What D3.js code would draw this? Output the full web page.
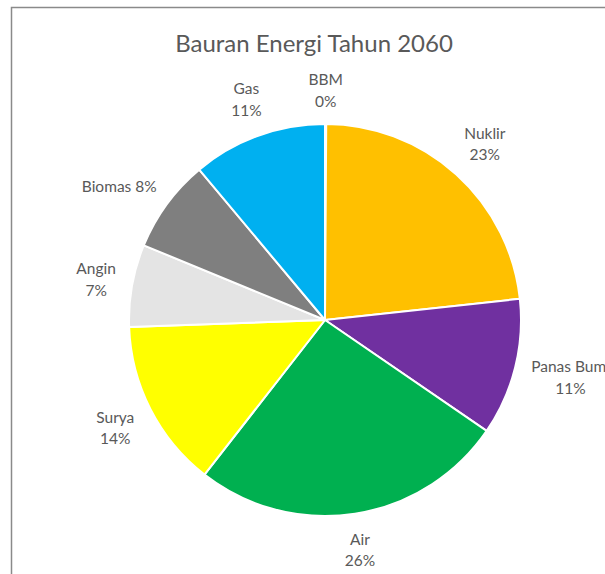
<!DOCTYPE html>
<html>
<head>
<meta charset="utf-8">
<script src="https://cdn.jsdelivr.net/npm/d3@7"></script>
<style>
  body { margin: 0; background: #fff; }
  svg { display: block; }
</style>
</head>
<body>
<svg id="chart" width="605" height="574"></svg>
<script>
// data (percent)
var categories = ["BBM", "Nuklir", "Panas Bumi", "Air", "Surya", "Angin", "Biomas", "Gas"];
var values = [0.1, 23.2, 11.3, 26.0, 13.9, 6.8, 7.7, 11.1];
var labels = ["BBM|0%", "Nuklir|23%", "Panas Bumi|11%", "Air|26%", "Surya|14%", "Angin|7%", "Biomas 8%", "Gas|11%"];
var colors = ["#c55a11", "#ffc000", "#7030a0", "#00b050", "#ffff00", "#e4e4e4", "#7f7f7f", "#00b0f0"];

var width = 605, height = 574;
var cx = 325, cy = 320, radius = 196;
var labelGap = 14;

var svg = d3.select("#chart");

// chart frame (cut off on right and bottom, as in the picture)
svg.append("rect")
    .attr("x", 11.5).attr("y", 7.5)
    .attr("width", 640).attr("height", 620)
    .attr("fill", "#fff")
    .attr("stroke", "#8a8a8a")
    .attr("stroke-width", 1.5);

svg.append("text")
    .attr("x", 314).attr("y", 52)
    .attr("text-anchor", "middle")
    .style("font-family", "Lato, 'Open Sans', sans-serif")
    .style("font-size", "24px")
    .style("fill", "#595959")
    .text("Bauran Energi Tahun 2060");

var pie = d3.pie().sort(null).value(function (d) { return d; });
var arcs = pie(values);
var arc = d3.arc().innerRadius(0).outerRadius(radius);

var g = svg.append("g").attr("transform", "translate(" + cx + "," + cy + ")");

g.selectAll("path.slice")
    .data(arcs)
    .enter().append("path")
    .attr("class", "slice")
    .attr("d", arc)
    .attr("fill", function (d, i) { return colors[i]; })
    .attr("stroke", "#fff")
    .attr("stroke-width", 2)
    .attr("stroke-linejoin", "round");

// labels: put the text box just outside the pie, along the middle angle
// (a bit more room on the diagonals, like excel does)
var lab = g.selectAll("g.lab")
    .data(arcs)
    .enter().append("g")
    .attr("class", "lab");

lab.each(function (d, i) {
    var el = d3.select(this);
    var lines = labels[i].split("|");
    var t = el.append("text")
        .attr("text-anchor", "middle")
        .style("font-family", "Lato, 'Open Sans', sans-serif")
        .style("font-size", "15.5px")
        .style("fill", "#595959");
    lines.forEach(function (s, k) {
        t.append("tspan").attr("x", 0).attr("dy", k == 0 ? 0 : 21.5).text(s);
    });
    var bb = t.node().getBBox();
    var a = (d.startAngle + d.endAngle) / 2;
    var sx = Math.sin(a), sy = -Math.cos(a);
    var gap = labelGap + 8 * Math.abs(Math.sin(2 * a));
    var ax = (radius + gap) * sx, ay = (radius + gap) * sy;
    var bx = ax + sx * bb.width / 2;
    var by = ay + sy * bb.height / 2;
    // shift so the box center lands on (bx, by)
    var ox = bx - (bb.x + bb.width / 2);
    var oy = by - (bb.y + bb.height / 2);
    el.attr("transform", "translate(" + ox + "," + oy + ")");
});
</script>
</body>
</html>
